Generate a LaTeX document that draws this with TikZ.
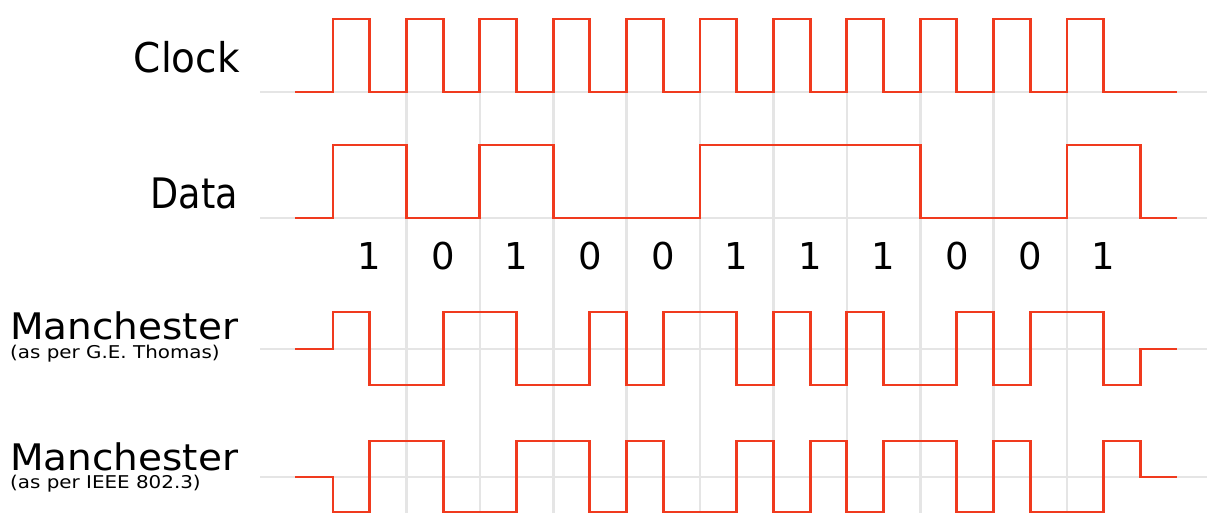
\documentclass[tikz,border=0pt]{standalone}
\usepackage{fontspec}
\setmainfont{DejaVu Sans}
\usepackage{graphicx}
\definecolor{sig}{RGB}{240,58,30}
\definecolor{grid}{RGB}{229,229,229}
\begin{document}
\begin{tikzpicture}[x=1pt,y=-1pt,
  gridline/.style={draw=grid,line width=2.6pt},
  signal/.style={draw=sig,line width=2.9pt,line join=miter},
  lbl/.style={inner sep=0pt,text=black},
  big/.style={lbl,text depth=0pt},
  small/.style={lbl,text height=12pt},
  bit/.style={inner sep=0pt,anchor=base,font=\fontsize{37}{37}\selectfont}]
\useasboundingbox (0,0) rectangle (1207,513);
\clip (0,0) rectangle (1207,513);
% labels
\node[big,anchor=base east] (clk) at (240,73) {\fontsize{41}{41}\selectfont\scalebox{0.95}[1]{Clock}};
\node[big,anchor=base east] (dat) at (238,208.3) {\fontsize{42}{42}\selectfont\scalebox{0.87}[1]{Data}};
\node[big,anchor=base west] (m1) at (10,339.5) {\fontsize{36.6}{36.6}\selectfont\scalebox{1.065}[1]{Manchester}};
\node[small,anchor=base west] (m1s) at (10,358) {\fontsize{17.6}{17.6}\selectfont\scalebox{1.13}[1]{(as per G.E. Thomas)}};
\node[big,anchor=base west] (m2) at (10,470) {\fontsize{36.6}{36.6}\selectfont\scalebox{1.065}[1]{Manchester}};
\node[small,anchor=base west] (m2s) at (10,488) {\fontsize{17.6}{17.6}\selectfont\scalebox{1.13}[1]{(as per IEEE 802.3)}};
\begin{scope}[shift={(333pt,0pt)},x=36.7pt]
  % grid
  \foreach \yy in {92,218,349,477}
    \draw[gridline] (-1.989,\yy) -- (23.81,\yy);
  \foreach \k in {2,4,...,20}
    \draw[gridline] (\k,92) -- (\k,513);
  % bits
  \foreach \b [count=\i from 0] in {1,0,1,0,0,1,1,1,0,0,1}
    \node[bit] (b\i) at ({2*\i+1},269.3) {\b};
  % clock
  \draw[signal] (-1.035,92) foreach \i in {0,...,10} { -- ({2*\i},92) -- ({2*\i},19) -- ({2*\i+1},19) -- ({2*\i+1},92) } -- (23,92);
  % data
  \draw[signal] (-1.035,218) -- (0,218) -- (0,145) -- (2,145) -- (2,218) -- (4,218) -- (4,145) -- (6,145) -- (6,218) -- (10,218) -- (10,145) -- (16,145) -- (16,218) -- (20,218) -- (20,145) -- (22,145) -- (22,218) -- (23,218);
  % Manchester (G.E. Thomas)
  \def\H{312}\def\L{385}\def\M{349}
  \draw[signal] (-1.035,\M) -- (0,\M) -- (0,\H) -- (1,\H) -- (1,\L) -- (3,\L) -- (3,\H) -- (5,\H) -- (5,\L) -- (7,\L) -- (7,\H) -- (8,\H) -- (8,\L) -- (9,\L) -- (9,\H) -- (11,\H) -- (11,\L) -- (12,\L) -- (12,\H) -- (13,\H) -- (13,\L) -- (14,\L) -- (14,\H) -- (15,\H) -- (15,\L) -- (17,\L) -- (17,\H) -- (18,\H) -- (18,\L) -- (19,\L) -- (19,\H) -- (21,\H) -- (21,\L) -- (22,\L) -- (22,\M) -- (23,\M);
  % Manchester (IEEE 802.3)
  \def\H{441}\def\L{512.5}\def\M{477}
  \draw[signal] (-1.035,\M) -- (0,\M) -- (0,\L) -- (1,\L) -- (1,\H) -- (3,\H) -- (3,\L) -- (5,\L) -- (5,\H) -- (7,\H) -- (7,\L) -- (8,\L) -- (8,\H) -- (9,\H) -- (9,\L) -- (11,\L) -- (11,\H) -- (12,\H) -- (12,\L) -- (13,\L) -- (13,\H) -- (14,\H) -- (14,\L) -- (15,\L) -- (15,\H) -- (17,\H) -- (17,\L) -- (18,\L) -- (18,\H) -- (19,\H) -- (19,\L) -- (21,\L) -- (21,\H) -- (22,\H) -- (22,\M) -- (23,\M);
\end{scope}
\end{tikzpicture}
\end{document}
